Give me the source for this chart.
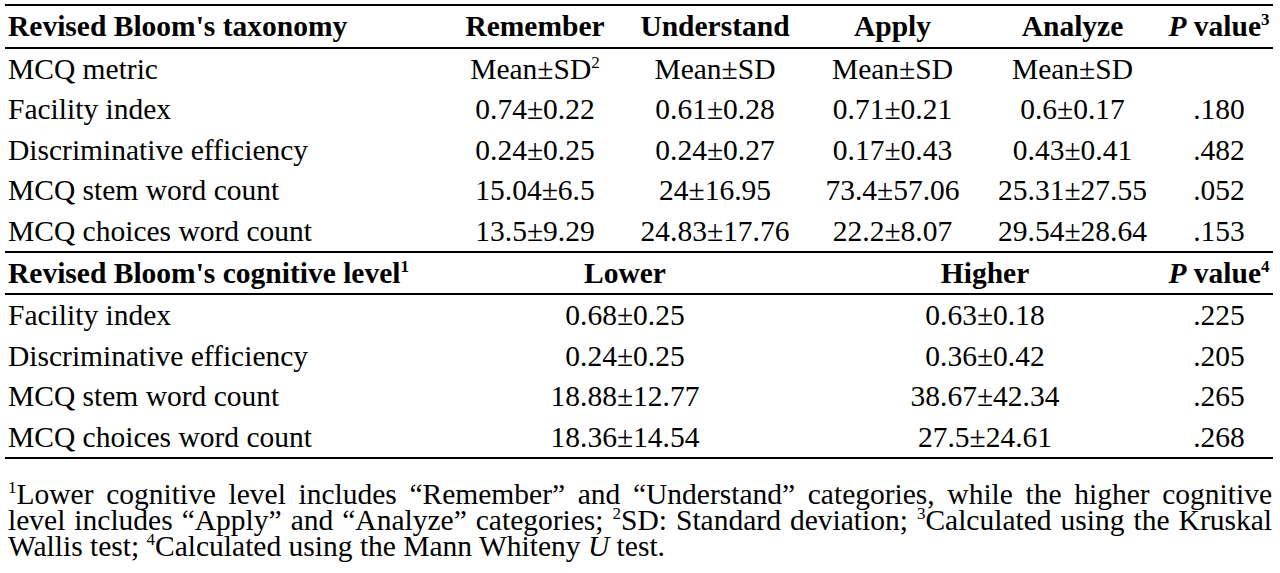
<!DOCTYPE html>
<html><head><meta charset="utf-8">
<script src="https://cdn.jsdelivr.net/npm/chart.js"></script>
<style>
body{margin:0;background:#fff;font-family:"Liberation Serif","Times New Roman",serif;font-size:29.5px;color:#000}
table{border-collapse:collapse;position:absolute;left:5px;top:4px;width:1268px;table-layout:fixed}
td,th{height:40.5px;padding:0;white-space:nowrap;text-align:center;line-height:40px}
td:first-child,th:first-child{text-align:left;padding-left:3px}
tr.h th{font-weight:bold;border-top:2px solid #000;border-bottom:2px solid #000}
tr.h2 th{height:36px}
sup{font-size:17px;vertical-align:11px;line-height:0}
#fn{position:absolute;left:8px;top:481px;width:1264px;text-align:justify;line-height:26px;font-size:29.5px}
tr.last td{border-bottom:2px solid #000}
</style></head><body>
<table id="t">
<colgroup><col style="width:440px"><col style="width:180px"><col style="width:180px"><col style="width:175px"><col style="width:185px"><col style="width:108px"></colgroup>
<tbody id="tb"></tbody></table>
<div id="fn"><sup>1</sup>Lower cognitive level includes “Remember” and “Understand” categories, while the higher cognitive level includes “Apply” and “Analyze” categories; <sup>2</sup>SD: Standard deviation; <sup>3</sup>Calculated using the Kruskal Wallis test; <sup>4</sup>Calculated using the Mann Whiteny <i>U</i> test.</div>
<script>
const header1 = ["Revised Bloom's taxonomy","Remember","Understand","Apply","Analyze"];
const metricRow = ["MCQ metric","Mean±SD<sup>2</sup>","Mean±SD","Mean±SD","Mean±SD",""];
const metrics1 = ["Facility index","Discriminative efficiency","MCQ stem word count","MCQ choices word count"];
const remember = ["0.74±0.22","0.24±0.25","15.04±6.5","13.5±9.29"];
const understand = ["0.61±0.28","0.24±0.27","24±16.95","24.83±17.76"];
const apply = ["0.71±0.21","0.17±0.43","73.4±57.06","22.2±8.07"];
const analyze = ["0.6±0.17","0.43±0.41","25.31±27.55","29.54±28.64"];
const p1 = [".180",".482",".052",".153"];
const header2 = ["Revised Bloom's cognitive level<sup>1</sup>","Lower","Higher"];
const lower = ["0.68±0.25","0.24±0.25","18.88±12.77","18.36±14.54"];
const higher = ["0.63±0.18","0.36±0.42","38.67±42.34","27.5±24.61"];
const p2 = [".225",".205",".265",".268"];
let h='<tr class="h">'+header1.map(x=>'<th>'+x+'</th>').join('')+'<th><i>P</i> value<sup>3</sup></th></tr>';
h+='<tr>'+metricRow.map(x=>'<td>'+x+'</td>').join('')+'</tr>';
metrics1.forEach((m,i)=>{h+='<tr><td>'+m+'</td><td>'+remember[i]+'</td><td>'+understand[i]+'</td><td>'+apply[i]+'</td><td>'+analyze[i]+'</td><td>'+p1[i]+'</td></tr>';});
h+='<tr class="h h2"><th>'+header2[0]+'</th><th colspan="2">'+header2[1]+'</th><th colspan="2">'+header2[2]+'</th><th><i>P</i> value<sup>4</sup></th></tr>';
metrics1.forEach((m,i)=>{h+='<tr'+(i==3?' class="last"':'')+'><td>'+m+'</td><td colspan="2">'+lower[i]+'</td><td colspan="2">'+higher[i]+'</td><td>'+p2[i]+'</td></tr>';});
document.getElementById('tb').innerHTML=h;
</script>
</body></html>
